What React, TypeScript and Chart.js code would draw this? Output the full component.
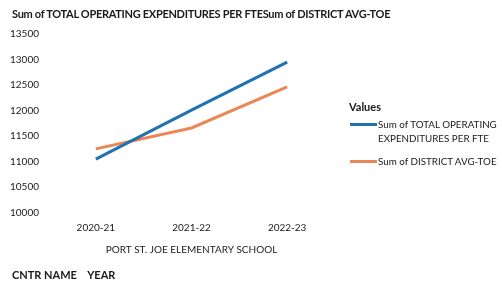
import React, { useEffect, useRef } from "react";
import { Chart, registerables } from "chart.js";

Chart.register(...registerables);

const years = ["2020-21", "2021-22", "2022-23"];
const totalOpExpPerFte = [11050, 12010, 12950];
const districtAvgToe = [11250, 11660, 12465];
const seriesNames = [
  "Sum of TOTAL OPERATING EXPENDITURES PER FTE",
  "Sum of DISTRICT AVG-TOE",
];
const seriesColors = ["#2172AE", "#EA8657"];
const yMin = 10000;
const yMax = 13500;
const yStep = 500;
const chartTitle = "Sum of TOTAL OPERATING EXPENDITURES PER FTESum of DISTRICT AVG-TOE";
const xAxisTitle = "PORT ST. JOE ELEMENTARY SCHOOL";
const fieldButtons = "CNTR NAME    YEAR";
const legendTitle = "Values";

const FONT = "Lato, 'Open Sans', sans-serif";
const TEXT = "#1a1a1a";

export default function App() {
  const ref = useRef<HTMLCanvasElement | null>(null);

  useEffect(() => {
    if (!ref.current) return;
    const chart = new Chart(ref.current, {
      type: "line",
      data: {
        labels: years,
        datasets: [
          {
            label: seriesNames[0],
            data: totalOpExpPerFte,
            borderColor: seriesColors[0],
            backgroundColor: seriesColors[0],
            borderWidth: 3,
            pointRadius: 0,
            tension: 0,
          },
          {
            label: seriesNames[1],
            data: districtAvgToe,
            borderColor: seriesColors[1],
            backgroundColor: seriesColors[1],
            borderWidth: 3,
            pointRadius: 0,
            tension: 0,
          },
        ],
      },
      options: {
        animation: false,
        responsive: false,
        devicePixelRatio: 1,
        layout: { padding: { left: 0, right: 167, top: 34, bottom: 22 } },
        plugins: {
          legend: { display: false },
          title: { display: false },
          tooltip: { enabled: false },
        },
        scales: {
          x: {
            offset: true,
            grid: { display: false, drawTicks: false },
            border: { display: false },
            ticks: {
              color: TEXT,
              font: { family: FONT, size: 10 },
              padding: 9,
            },
            title: {
              display: true,
              text: xAxisTitle,
              color: TEXT,
              font: { family: FONT, size: 10 },
              padding: { top: 4, bottom: 4 },
            },
            afterFit: (s: any) => {
              s.height = 47.3;
            },
          },
          y: {
            min: yMin,
            max: yMax,
            grid: { display: false, drawTicks: false },
            border: { display: false },
            ticks: {
              stepSize: yStep,
              color: TEXT,
              font: { family: FONT, size: 10 },
              padding: 9,
              callback: (v: any) => String(v),
            },
            afterFit: (s: any) => {
              s.width = 48;
            },
          },
        },
      },
    });
    return () => chart.destroy();
  }, []);

  return (
    <div
      style={{
        position: "fixed",
        left: 0,
        top: 0,
        width: 502,
        height: 282,
        background: "#fff",
        fontFamily: FONT,
        color: TEXT,
      }}
    >
      <canvas ref={ref} width={502} height={282} style={{ position: "absolute", left: 0, top: 0 }} />
      <div
        style={{
          position: "absolute",
          left: 12,
          top: 7,
          fontSize: 11,
          fontWeight: 700,
          letterSpacing: -0.3,
          whiteSpace: "nowrap",
        }}
      >
        {chartTitle}
      </div>
      <div
        style={{
          position: "absolute",
          left: 12,
          top: 268,
          fontSize: 11,
          fontWeight: 700,
          whiteSpace: "pre",
        }}
      >
        {fieldButtons}
      </div>
      <div style={{ position: "absolute", left: 349, top: 100, fontSize: 11, fontWeight: 700 }}>
        {legendTitle}
      </div>
      <div style={{ position: "absolute", left: 350, top: 117, fontSize: 9.8, lineHeight: "14px" }}>
        <div style={{ position: "absolute", left: 0, top: 6, width: 27, height: 3, background: seriesColors[0] }} />
        <div style={{ marginLeft: 28, width: 124 }}>{seriesNames[0]}</div>
      </div>
      <div style={{ position: "absolute", left: 350, top: 154, fontSize: 9.8, lineHeight: "14px", whiteSpace: "nowrap" }}>
        <div style={{ position: "absolute", left: 0, top: 6, width: 27, height: 3, background: seriesColors[1] }} />
        <div style={{ marginLeft: 28 }}>{seriesNames[1]}</div>
      </div>
    </div>
  );
}
